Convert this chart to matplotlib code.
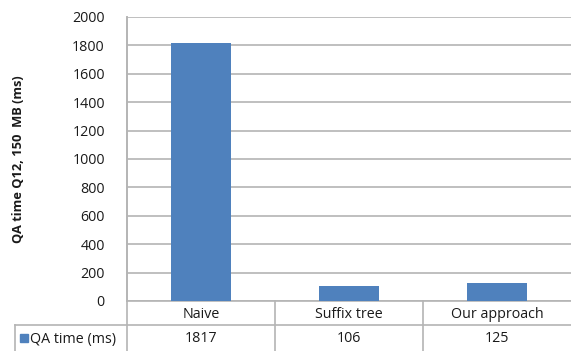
import matplotlib.pyplot as plt
from matplotlib.transforms import blended_transform_factory

# query-answering time per method, 150 MB input
methods = ["Naive", "Suffix tree", "Our approach"]
qa_time = [1817, 106, 125]
series_name = "QA time (ms)"
y_ticks = list(range(0, 2001, 200))

bar_color = "#4f81bd"
grid_color = "#b4b4b4"
text_color = "#1a1a1a"
font = ["Open Sans", "DejaVu Sans"]
fs = 10.3

W, H = 571, 351
fig = plt.figure(figsize=(W / 100, H / 100), dpi=100)

# pixel-space overlay for the data table under the chart
tab = fig.add_axes([0, 0, 1, 1], zorder=0)
tab.set_xlim(0, W)
tab.set_ylim(H, 0)
tab.axis("off")

left, top, bottom = 127, 17, 301
ax = fig.add_axes([left / W, (H - bottom) / H, (W - left) / W, (bottom - top) / H], zorder=1)
ax.patch.set_alpha(0)

xs = list(range(len(methods)))
ax.bar(xs, qa_time, width=0.4, color=bar_color, zorder=3)
ax.set_xlim(-0.5, len(methods) - 0.5)
ax.set_ylim(0, 2000)
ax.set_yticks(y_ticks)
ax.set_yticklabels([str(t) for t in y_ticks], family=font, fontsize=fs, color=text_color)
ax.set_xticks([])
ax.tick_params(axis="y", length=0, pad=16)
ax.grid(axis="y", color=grid_color, lw=1.2, zorder=0)
for s in ["top", "right", "bottom"]:
    ax.spines[s].set_visible(False)
ax.spines["left"].set_color(grid_color)
ax.spines["left"].set_linewidth(1.2)

# rotated axis title, placed in pixels
tab.text(19, (top + bottom) / 2, "QA time Q12, 150  MB (ms)", rotation=90,
         ha="center", va="center", family=font, fontsize=9.3,
         fontweight="bold", color=text_color)

# table lines
row1, row2 = bottom, 325
lc = dict(color=grid_color, lw=1.2)
tab.plot([left, left], [top, H], **lc)
tab.plot([left, W], [row1, row1], **lc)
tab.plot([15, W], [row2, row2], **lc)
tab.plot([15, 15], [row2, H], **lc)

mix = blended_transform_factory(ax.transData, tab.transData)
for i in range(1, len(methods)):
    tab.plot([i - 0.5, i - 0.5], [row1, H], transform=mix, **lc)

for i, (m, v) in enumerate(zip(methods, qa_time)):
    tab.text(i, (row1 + row2) / 2 + 1, m, transform=mix, ha="center", va="center",
             family=font, fontsize=fs, color=text_color)
    tab.text(i, (row2 + H) / 2 + 1, str(v), transform=mix, ha="center", va="center",
             family=font, fontsize=fs, color=text_color)

# legend key in the row header
tab.add_patch(plt.Rectangle((20, 334), 8, 8, color=bar_color))
tab.text(30, (row2 + H) / 2 + 1, series_name, ha="left", va="center",
         family=font, fontsize=fs, color=text_color)

fig.savefig("out.png", dpi=100)
